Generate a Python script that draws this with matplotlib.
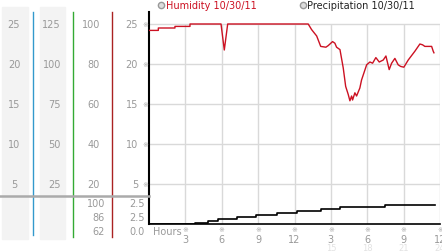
import matplotlib
matplotlib.use("Agg")
import matplotlib.pyplot as plt
from matplotlib.transforms import blended_transform_factory
from matplotlib.patches import Rectangle
from matplotlib.lines import Line2D

# dados
hum_horas = [0.0, 0.77, 0.77, 2.14, 2.14, 3.38, 3.38, 5.94, 6.21, 6.49, 13.13, 13.41,
             13.83, 14.16, 14.59, 14.78, 15.14, 15.33, 15.47, 15.75, 16.02, 16.22,
             16.43, 16.57, 16.71, 16.79, 16.98, 17.12, 17.39, 17.53, 17.95, 18.22,
             18.44, 18.71, 18.99, 19.32, 19.54, 19.81, 20.01, 20.28, 20.55, 20.75,
             21.02, 21.38, 21.93, 22.34, 22.56, 22.75, 23.31, 23.44, 23.5]
umidade = [24.2, 24.2, 24.5, 24.5, 24.7, 24.7, 25.0, 25.0, 21.75, 25.0, 25.0, 24.3,
           23.5, 22.2, 22.1, 22.3, 22.8, 22.6, 22.1, 21.8, 19.5, 17.2,
           16.2, 15.4, 16.0, 15.5, 16.4, 16.0, 17.0, 18.0, 19.9, 20.25,
           20.1, 20.8, 20.25, 20.5, 21.0, 19.3, 20.1, 20.7, 19.9, 19.7,
           19.6, 20.5, 21.6, 22.5, 22.4, 22.2, 22.2, 21.6, 21.4]

prec_horas = [0, 3.8, 4.9, 5.7, 7.25, 8.8, 10.55, 12.2, 14.2, 15.75, 19.45, 23.6]
precipitacao = [0, 0.11, 0.31, 0.53, 0.76, 1.02, 1.25, 1.48, 1.67, 1.90, 2.16, 2.16]

horas_ticks = [3, 6, 9, 12, 15, 18, 21, 24]
horas_labels = ['3', '6', '9', '12', '3', '6', '9', '12']
horas_labels2 = ['', '', '', '', '15', '18', '21', '24']

niveis = [25, 20, 15, 10, 5]
col1 = ['25', '20', '15', '10', '5']
col2 = ['125', '100', '75', '50', '25']
col3 = ['100', '80', '60', '40', '20']
col4 = ['25', '20', '15', '10', '5']
baixo3 = ['100', '86', '62']
baixo4 = ['2.5', '2.5', '0.0']

W, H = 442, 253
def fx(x):
    return x / W
def fy(y):
    return 1 - y / H

plt.rcParams['font.family'] = 'DejaVu Sans'
fig = plt.figure(figsize=(W / 100, H / 100), dpi=100)

# painel da esquerda (fundos cinza)
fig.patches.append(Rectangle((fx(2), fy(240)), fx(26), 232 / H, transform=fig.transFigure,
                             color='#f3f3f3', zorder=0))
fig.patches.append(Rectangle((fx(40), fy(240)), fx(25), 232 / H, transform=fig.transFigure,
                             color='#f3f3f3', zorder=0))

ax = fig.add_axes([fx(149), fy(225), fx(440 - 149), (225 - 13) / H])
ax.set_xlim(0, 24)
ax.set_ylim(0, 212 / 8)
ax.patch.set_alpha(0)

# grade
ax.vlines(horas_ticks, 0, 25, color='#d9d9d9', lw=1, zorder=1)
ax.hlines(niveis, 0, 24, color='#d9d9d9', lw=1, zorder=1)

ax.plot(hum_horas, umidade, color='#cc1122', lw=1.0, zorder=3)

ax2 = ax.twinx()
ax2.set_ylim(0, 212 / 8.8)
ax2.step(prec_horas, precipitacao, where='post', color='black', lw=1.2, zorder=3)
for s in ax2.spines.values():
    s.set_visible(False)
ax2.set_yticks([])

for s in ['top', 'right']:
    ax.spines[s].set_visible(False)
ax.spines['left'].set_linewidth(1.5)
ax.spines['bottom'].set_linewidth(1.2)
ax.set_yticks([])
ax.set_xticks(horas_ticks)
ax.set_xticklabels(horas_labels, fontsize=7, color='#999999')
ax.tick_params(axis='x', length=0, pad=7)

tx = blended_transform_factory(ax.transData, fig.transFigure)
for h, l2 in zip(horas_ticks, horas_labels2):
    fig.text(h, fy(230.5), '※', transform=tx, fontsize=5, color='#aaaaaa', ha='center', va='center')
    fig.text(h, fy(248.5), l2, transform=tx, fontsize=6, color='#e2e2e2', ha='center', va='center')
fig.text(fx(153), fy(232), 'Hours', fontsize=7, color='#999999', ha='left', va='center')

# rótulos do painel esquerdo
ty = blended_transform_factory(fig.transFigure, ax.transData)
for v, a, b, c, d in zip(niveis, col1, col2, col3, col4):
    fig.text(fx(14), v, a, transform=ty, fontsize=7, color='#999999', ha='center', va='center')
    fig.text(fx(61), v, b, transform=ty, fontsize=7, color='#999999', ha='right', va='center')
    fig.text(fx(100), v, c, transform=ty, fontsize=7, color='#999999', ha='right', va='center')
    fig.text(fx(138), v, d, transform=ty, fontsize=7, color='#999999', ha='right', va='center')
    fig.text(fx(145.5), v, '※', transform=ty, fontsize=5, color='#aaaaaa', ha='center', va='center')

for yy, c, d in zip([204, 218.3, 232.3], baixo3, baixo4):
    fig.text(fx(105), fy(yy), c, fontsize=7, color='#999999', ha='right', va='center')
    fig.text(fx(145), fy(yy), d, fontsize=7, color='#999999', ha='right', va='center')

# linhas verticais coloridas e separador
fig.add_artist(Line2D([fx(33), fx(33)], [fy(13), fy(236)], color='#3399cc', lw=1))
fig.add_artist(Line2D([fx(72.5), fx(72.5)], [fy(13), fy(238)], color='#33aa33', lw=1))
fig.add_artist(Line2D([fx(111.5), fx(111.5)], [fy(13), fy(238)], color='#aa2222', lw=1))
fig.add_artist(Line2D([0, fx(149)], [fy(197), fy(197)], color='#aaaaaa', lw=1.8))

# legenda
fig.add_artist(Line2D([fx(161)], [fy(6)], marker='o', ms=4.5, mfc='#dddddd', mec='#999999', mew=1))
fig.text(fx(166), fy(6), 'Humidity 10/30/11', fontsize=7, color='#cc1122', ha='left', va='center')
fig.add_artist(Line2D([fx(302.5)], [fy(6)], marker='o', ms=4.5, mfc='#dddddd', mec='#999999', mew=1))
fig.text(fx(307), fy(6), 'Precipitation 10/30/11', fontsize=7, color='#222222', ha='left', va='center')

fig.savefig('out.png', dpi=100)
